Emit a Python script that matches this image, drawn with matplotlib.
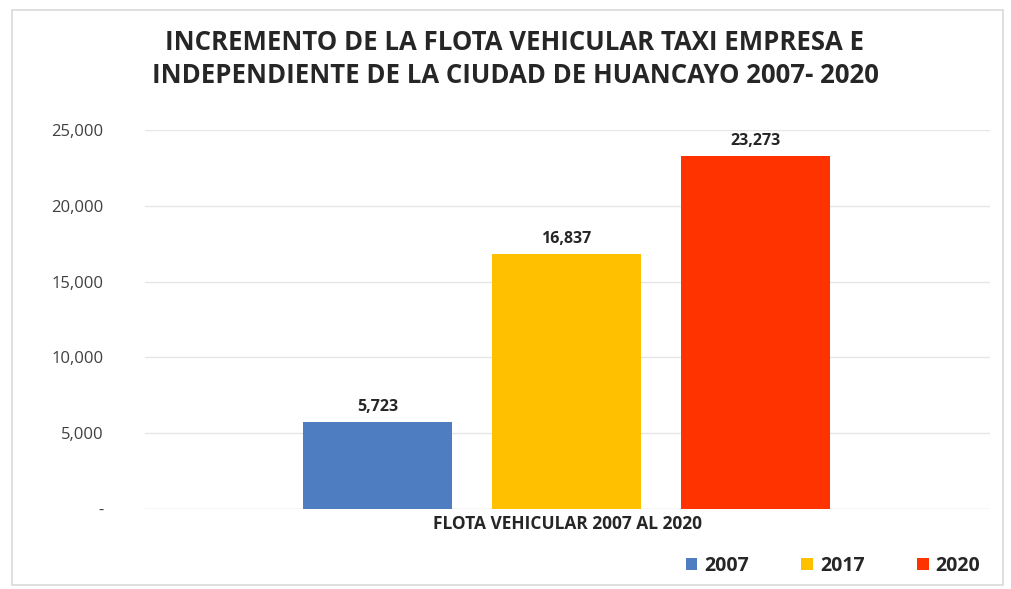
import matplotlib.pyplot as plt
from matplotlib.patches import Rectangle
from matplotlib.ticker import FuncFormatter

years = ["2007", "2017", "2020"]
fleet = [5723, 16837, 23273]
colors = ["#4F7DC1", "#FFC000", "#FF3300"]
category = "FLOTA VEHICULAR 2007 AL 2020"

plt.rcParams["font.family"] = ["Open Sans", "DejaVu Sans"]

fig = plt.figure(figsize=(10.12, 5.89), dpi=100)
ax = fig.add_axes([145 / 1012, 1 - 509 / 589, 845 / 1012, 379 / 589])

# faint frame around the whole chart area
fig.patches.append(Rectangle((12 / 1012, 4 / 589), 991 / 1012, 575 / 589,
                             transform=fig.transFigure, fill=False,
                             edgecolor="#D9D9D9", linewidth=1.2))

pos = [-1, 0, 1]
bars = ax.bar(pos, fleet, width=0.79, color=colors, label=years, zorder=3)
for b, v in zip(bars, fleet):
    ax.text(b.get_x() + b.get_width() / 2, v + 450, f"{v:,}",
            ha="center", va="bottom", fontsize=11.5, fontweight="bold", color="#262626")

ax.set_xlim(-2.23, 2.24)
ax.set_ylim(0, 25000)
ax.set_yticks(range(0, 25001, 5000))
ax.yaxis.set_major_formatter(FuncFormatter(lambda v, p: "-" if v == 0 else f"{int(v):,}"))
ax.tick_params(axis="y", length=0, pad=30, labelsize=12, labelcolor="#404040")
ax.set_xticks([])
ax.grid(axis="y", color="#E6E6E6", linewidth=1, zorder=0)
for s in ax.spines.values():
    s.set_visible(False)
ax.axhline(0, color="#E6E6E6", linewidth=1, zorder=1)

ax.set_xlabel(category, fontsize=12.5, fontweight="bold", color="#262626", labelpad=4)

fig.text(515 / 1012, 1 - 59 / 589,
         "INCREMENTO DE LA FLOTA VEHICULAR TAXI EMPRESA E\nINDEPENDIENTE DE LA CIUDAD DE HUANCAYO 2007- 2020",
         ha="center", va="center", fontsize=18.5, fontweight="bold", color="#262626",
         linespacing=1.3)

leg = fig.legend(handles=list(bars), labels=years, loc="center",
                 bbox_to_anchor=(833 / 1012, 1 - 566 / 589), ncol=3, frameon=False,
                 handlelength=0.6, handleheight=0.6, handletextpad=0.35,
                 columnspacing=2.7, prop={"size": 14, "weight": "bold"})
for t in leg.get_texts():
    t.set_color("#262626")

fig.savefig("out.png", dpi=100, facecolor="white")
